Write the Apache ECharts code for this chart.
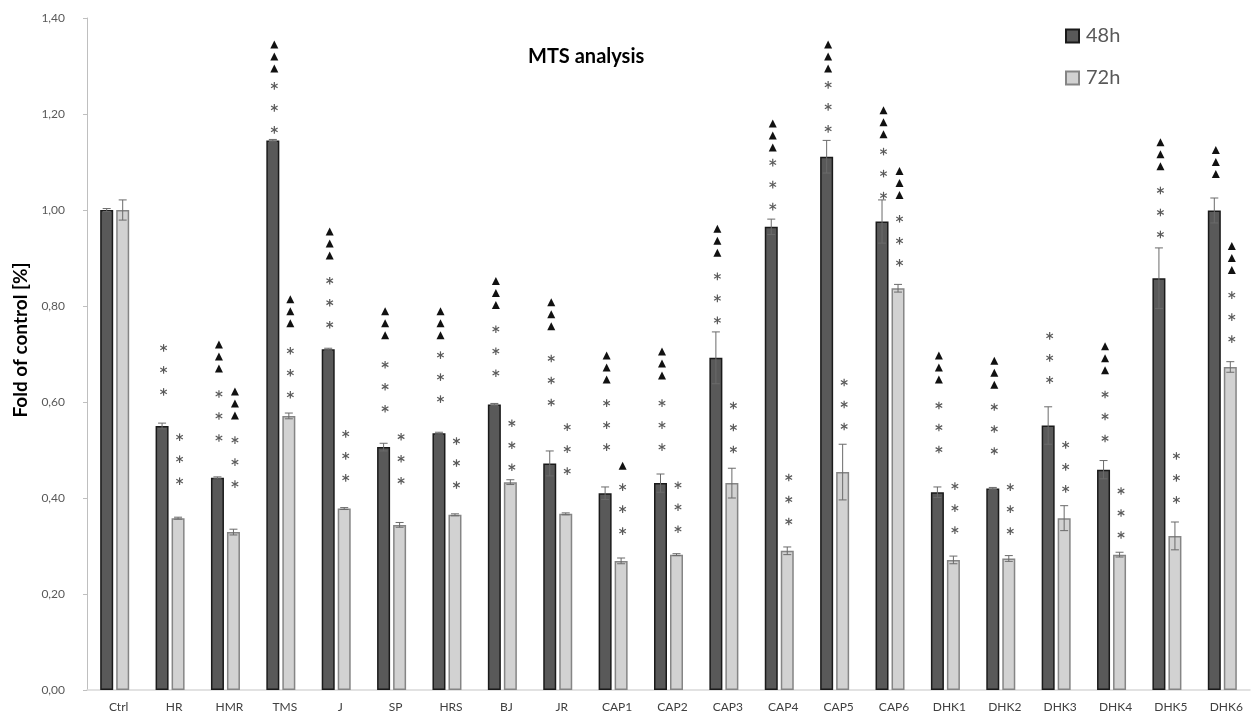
<!DOCTYPE html>
<html>
<head>
<meta charset="utf-8">
<script src="https://cdn.jsdelivr.net/npm/echarts@6/dist/echarts.min.js"></script>
<style>html,body{margin:0;padding:0;background:#fff;}#c{width:1255px;height:719px;}</style>
</head>
<body>
<div id="c"></div>
<script>
const categories = ['Ctrl','HR','HMR','TMS','J','SP','HRS','BJ','JR','CAP1','CAP2','CAP3','CAP4','CAP5','CAP6','DHK1','DHK2','DHK3','DHK4','DHK5','DHK6'];
const yTicks = [0, 0.2, 0.4, 0.6, 0.8, 1.0, 1.2, 1.4];

const val48 = [1.000,0.550,0.442,1.145,0.710,0.506,0.535,0.595,0.472,0.410,0.431,0.692,0.965,1.111,0.976,0.412,0.420,0.551,0.459,0.858,0.999];
const err48 = [0.003,0.006,0.002,0.002,0.002,0.008,0.002,0.002,0.026,0.013,0.019,0.054,0.016,0.034,0.045,0.011,0.002,0.039,0.019,0.063,0.026];
const val72 = [1.000,0.358,0.329,0.571,0.378,0.344,0.365,0.433,0.367,0.269,0.282,0.431,0.290,0.454,0.837,0.271,0.274,0.358,0.282,0.321,0.673];
const err72 = [0.021,0.002,0.006,0.006,0.002,0.005,0.002,0.005,0.002,0.006,0.002,0.031,0.008,0.058,0.008,0.008,0.006,0.026,0.005,0.029,0.011];

// significance marks: number of asterisks / triangles and the value level of the lowest mark
const stars48 = [0,3,3,3,3,3,3,3,3,3,3,3,3,3,3,3,3,3,3,3,0];
const starLvl48 = [null,0.621,0.525,1.167,0.761,0.586,0.606,0.660,0.599,0.506,0.506,0.770,1.007,1.169,1.030,0.501,0.498,0.646,0.524,0.949,null];
const tris48 = [0,0,3,3,3,3,3,3,3,3,3,3,3,3,3,3,3,0,3,3,3];
const triLvl48 = [null,null,0.669,1.294,0.904,0.738,0.738,0.801,0.757,0.646,0.654,0.910,1.129,1.294,1.157,0.646,0.635,null,0.665,1.090,1.074];

const stars72 = [0,3,3,3,3,3,3,3,3,3,3,3,3,3,3,3,3,3,3,3,3];
const starLvl72 = [null,0.435,0.429,0.615,0.442,0.436,0.427,0.464,0.456,0.331,0.335,0.501,0.351,0.549,0.890,0.333,0.331,0.419,0.323,0.396,0.731];
const tris72 = [0,0,3,3,0,0,0,0,0,1,0,0,0,0,3,0,0,0,0,0,3];
const triLvl72 = [null,null,0.571,0.763,null,null,null,null,null,0.466,null,null,null,null,1.030,null,null,null,null,null,0.874];

const BAR_W = 13, BAR_GAP = 3;
const OFF = (BAR_W + BAR_GAP) / 2;

function makeRender(vals, errs, stars, starLvl, tris, triLvl, dx) {
  return function (params, api) {
    const i = params.dataIndex;
    const cx = api.coord([i, 0])[0] + dx;
    const ch = [];
    const v = vals[i], e = errs[i];
    const yt = api.coord([i, v + e])[1], yb = api.coord([i, v - e])[1];
    const es = {stroke: '#6b6b6b', lineWidth: 1};
    ch.push({type: 'line', shape: {x1: cx, y1: yt, x2: cx, y2: yb}, style: es});
    ch.push({type: 'line', shape: {x1: cx - 4, y1: yt, x2: cx + 4, y2: yt}, style: es});
    ch.push({type: 'line', shape: {x1: cx - 4, y1: yb, x2: cx + 4, y2: yb}, style: es});
    const mx = cx + 1.5;
    if (stars[i] > 0) {
      const y0 = api.coord([i, starLvl[i]])[1];
      for (let k = 0; k < stars[i]; k++) {
        const cy = y0 - k * 22;
        const r = 3.8;
        const ss = {stroke: '#5a5a5a', lineWidth: 1.2};
        for (let a = 0; a < 3; a++) {
          const ang = Math.PI / 2 + a * Math.PI / 3;
          const ddx = Math.cos(ang) * r, ddy = Math.sin(ang) * r;
          ch.push({type: 'line', shape: {x1: mx - ddx, y1: cy - ddy, x2: mx + ddx, y2: cy + ddy}, style: ss});
        }
      }
    }
    if (tris[i] > 0) {
      const y0 = api.coord([i, triLvl[i]])[1];
      for (let k = 0; k < tris[i]; k++) {
        const cy = y0 - k * 12;
        ch.push({type: 'polygon', shape: {points: [[mx, cy - 4.5], [mx + 4, cy + 3.5], [mx - 4, cy + 3.5]]}, style: {fill: '#111'}});
      }
    }
    return {type: 'group', children: ch};
  };
}

const chart = echarts.init(document.getElementById('c'), null, {renderer: 'canvas'});
const FONT = 'Lato';
chart.setOption({
  animation: false,
  backgroundColor: '#ffffff',
  textStyle: {fontFamily: FONT},
  title: {
    text: 'MTS analysis', left: 528, top: 47, padding: 0,
    textStyle: {fontFamily: FONT, fontSize: 20, fontWeight: 'bold', color: '#000'}
  },
  legend: {
    orient: 'vertical', left: 1065, top: 26, padding: 0,
    itemWidth: 13, itemHeight: 13, itemGap: 22, icon: 'rect',
    data: ['48h', '72h'],
    textStyle: {fontFamily: FONT, fontSize: 20, color: '#595959', lineHeight: 20, padding: [0, 0, 0, 2]}
  },
  grid: {left: 87, right: 5, top: 18, bottom: 29, containLabel: false},
  xAxis: {
    type: 'category', data: categories,
    axisTick: {show: false},
    axisLine: {lineStyle: {color: '#d9d9d9', width: 1.5}},
    axisLabel: {color: '#404040', fontSize: 12, margin: 11, fontFamily: FONT, padding: [0, 0, 0, 8]}
  },
  yAxis: {
    type: 'value', min: yTicks[0], max: yTicks[yTicks.length - 1], interval: 0.2,
    name: 'Fold of control [%]', nameLocation: 'middle', nameGap: 52,
    nameTextStyle: {fontFamily: FONT, fontSize: 19, fontWeight: 'bold', color: '#000', padding: [0, 0, 0, 28]},
    splitLine: {show: false},
    axisLine: {show: true, lineStyle: {color: '#bfbfbf'}},
    axisTick: {show: true, length: 4, lineStyle: {color: '#bfbfbf'}},
    axisLabel: {color: '#595959', fontSize: 12, margin: 22, fontFamily: FONT,
      formatter: v => v.toFixed(2).replace('.', ',')}
  },
  series: [
    {name: '48h', type: 'bar', data: val48, barWidth: BAR_W, barGap: (BAR_GAP / BAR_W * 100) + '%',
      itemStyle: {color: '#595959', borderColor: '#1a1a1a', borderWidth: 1.5}},
    {name: '72h', type: 'bar', data: val72, barWidth: BAR_W,
      itemStyle: {color: '#d2d2d2', borderColor: '#858585', borderWidth: 1.5}},
    {type: 'custom', clip: false, z: 5, silent: true,
      data: categories.map((c, i) => [i, val48[i]]),
      encode: {x: 0, y: 1},
      renderItem: makeRender(val48, err48, stars48, starLvl48, tris48, triLvl48, -OFF)},
    {type: 'custom', clip: false, z: 5, silent: true,
      data: categories.map((c, i) => [i, val72[i]]),
      encode: {x: 0, y: 1},
      renderItem: makeRender(val72, err72, stars72, starLvl72, tris72, triLvl72, OFF)}
  ]
});
</script>
</body>
</html>
